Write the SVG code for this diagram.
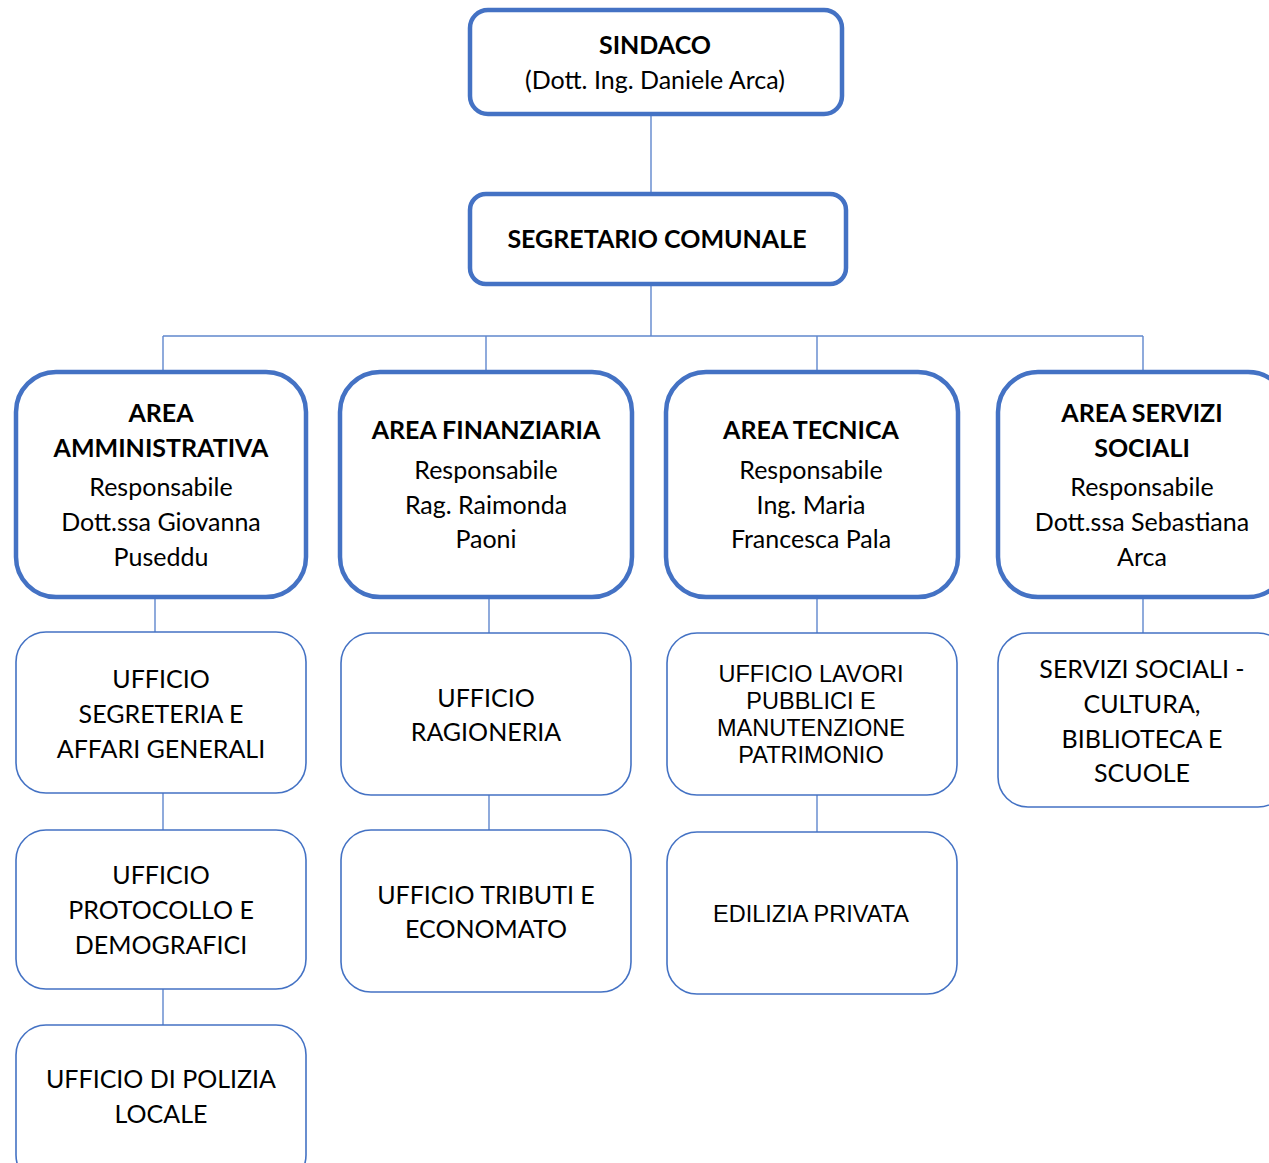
<svg xmlns="http://www.w3.org/2000/svg" width="1269" height="1163" viewBox="0 0 1269 1163">
<style>
.top{fill:#fff;stroke:#4472C4;stroke-width:4.5}
.area{fill:#fff;stroke:#4472C4;stroke-width:4.5}
.off{fill:#fff;stroke:#4472C4;stroke-width:1.6}
.c{stroke:#4472C4;stroke-width:1.4;fill:none;opacity:0.85}
text{font-family:Lato,"Open Sans","Liberation Sans",sans-serif;font-size:25px;fill:#000;text-anchor:middle}
.b{font-weight:bold}
.a{font-family:"Liberation Sans",Arial,sans-serif;font-size:23.5px}
</style>
<rect width="1269" height="1163" fill="#fff"/>
<g id="connectors">
<path class="c" d="M651 114V194M651 284V336M163 336H1143M163 336V372M486 336V372M817 336V372M1143 336V372"/>
<path class="c" d="M155 597V633M163 793V830M163 989V1025"/>
<path class="c" d="M489 597V633M489 795V830"/>
<path class="c" d="M817 597V633M817 795V832"/>
<path class="c" d="M1143 597V633"/>
</g>
<g id="sindaco">
<rect class="top" x="470" y="10" width="372" height="104" rx="18"/>
<text x="655" y="54" class="b">SINDACO</text>
<text x="655" y="89">(Dott. Ing. Daniele Arca)</text>
</g>
<g id="segretario">
<rect class="top" x="470" y="194" width="376" height="90" rx="16"/>
<text x="657" y="248" class="b">SEGRETARIO COMUNALE</text>
</g>
<g id="area-amministrativa">
<rect class="area" x="16" y="372" width="290" height="225" rx="40"/>
<text x="161" y="422" class="b">AREA</text>
<text x="161" y="457" class="b">AMMINISTRATIVA</text>
<text x="161" y="496">Responsabile</text>
<text x="161" y="531">Dott.ssa Giovanna</text>
<text x="161" y="566">Puseddu</text>
</g>
<g id="area-finanziaria">
<rect class="area" x="340" y="372" width="292" height="225" rx="40"/>
<text x="486" y="439" class="b">AREA FINANZIARIA</text>
<text x="486" y="479">Responsabile</text>
<text x="486" y="514">Rag. Raimonda</text>
<text x="486" y="548">Paoni</text>
</g>
<g id="area-tecnica">
<rect class="area" x="666" y="372" width="292" height="225" rx="40"/>
<text x="811" y="439" class="b">AREA TECNICA</text>
<text x="811" y="479">Responsabile</text>
<text x="811" y="514">Ing. Maria</text>
<text x="811" y="548">Francesca Pala</text>
</g>
<g id="area-servizi-sociali">
<rect class="area" x="998" y="372" width="290" height="225" rx="40"/>
<text x="1142" y="422" class="b">AREA SERVIZI</text>
<text x="1142" y="457" class="b">SOCIALI</text>
<text x="1142" y="496">Responsabile</text>
<text x="1142" y="531">Dott.ssa Sebastiana</text>
<text x="1142" y="566">Arca</text>
</g>
<g id="ufficio-segreteria">
<rect class="off" x="16" y="632" width="290" height="161" rx="30"/>
<text x="161" y="688">UFFICIO</text>
<text x="161" y="723">SEGRETERIA E</text>
<text x="161" y="758">AFFARI GENERALI</text>
</g>
<g id="ufficio-protocollo">
<rect class="off" x="16" y="830" width="290" height="159" rx="30"/>
<text x="161" y="884">UFFICIO</text>
<text x="161" y="919">PROTOCOLLO E</text>
<text x="161" y="954">DEMOGRAFICI</text>
</g>
<g id="ufficio-polizia">
<rect class="off" x="16" y="1025" width="290" height="160" rx="30"/>
<text x="161" y="1088">UFFICIO DI POLIZIA</text>
<text x="161" y="1123">LOCALE</text>
</g>
<g id="ufficio-ragioneria">
<rect class="off" x="341" y="633" width="290" height="162" rx="30"/>
<text x="486" y="707">UFFICIO</text>
<text x="486" y="741">RAGIONERIA</text>
</g>
<g id="ufficio-tributi">
<rect class="off" x="341" y="830" width="290" height="162" rx="30"/>
<text x="486" y="904">UFFICIO TRIBUTI E</text>
<text x="486" y="938">ECONOMATO</text>
</g>
<g id="ufficio-lavori">
<rect class="off" x="667" y="633" width="290" height="162" rx="30"/>
<text x="811" y="682" class="a">UFFICIO LAVORI</text>
<text x="811" y="709" class="a">PUBBLICI E</text>
<text x="811" y="736" class="a">MANUTENZIONE</text>
<text x="811" y="763" class="a">PATRIMONIO</text>
</g>
<g id="edilizia-privata">
<rect class="off" x="667" y="832" width="290" height="162" rx="30"/>
<text x="811" y="922" class="a">EDILIZIA PRIVATA</text>
</g>
<g id="servizi-sociali">
<rect class="off" x="998" y="633" width="290" height="174" rx="30"/>
<text x="1142" y="678">SERVIZI SOCIALI -</text>
<text x="1142" y="713">CULTURA,</text>
<text x="1142" y="748">BIBLIOTECA E</text>
<text x="1142" y="782">SCUOLE</text>
</g>
</svg>
